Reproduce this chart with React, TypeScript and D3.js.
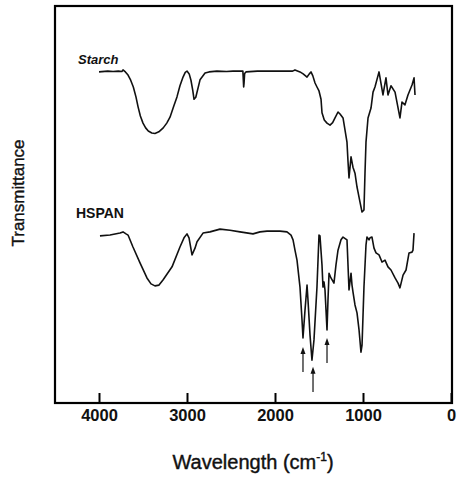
import React, { useEffect, useRef } from 'react';
import * as d3 from 'd3';

// wavenumber (cm-1), transmittance (arbitrary units)
const starchWn = [
  4000, 3900, 3840, 3780, 3740, 3727, 3700, 3670, 3640, 3610, 3580, 3556, 3530, 3500, 3470, 3440,
  3400, 3364, 3320, 3270, 3230, 3193, 3150, 3114, 3080, 3045, 3020, 3000, 2975, 2955, 2935, 2920,
  2900, 2852, 2795, 2750, 2660, 2550, 2477, 2400, 2365, 2356, 2352, 2345, 2330, 2200, 2095, 1900,
  1800, 1773, 1716, 1680, 1636, 1610, 1591, 1570, 1545, 1523, 1500, 1477, 1466, 1440, 1409, 1375,
  1345, 1318, 1284, 1261, 1227, 1182, 1170, 1159, 1136, 1114, 1091, 1080, 1068, 1057, 1034, 1011,
  989, 977, 966, 943, 909, 886, 864, 818, 773, 739, 716, 682, 636, 580, 557, 523, 489, 443, 420, 409,
];
const starchT = [
  83.4, 83.6, 83.5, 83.6, 83.5, 83.9, 83.4, 82.6, 81.3, 79.6, 77.1, 74.6, 72.3, 70.5, 69.3, 68.5,
  68.0, 67.9, 68.3, 69.3, 70.5, 72.0, 74.8, 77.1, 79.9, 82.1, 83.3, 83.6, 82.9, 81.3, 78.8, 76.5,
  77.0, 81.4, 83.1, 83.4, 83.6, 83.5, 83.6, 83.6, 83.6, 79.6, 80.5, 83.0, 83.4, 83.6, 83.6, 83.6,
  83.6, 83.9, 83.4, 82.9, 82.1, 82.9, 83.4, 82.4, 80.6, 79.6, 78.6, 76.5, 73.1, 71.3, 70.5, 70.0,
  70.6, 71.8, 73.3, 72.8, 71.8, 65.7, 60.7, 56.7, 62.0, 59.4, 57.9, 56.2, 54.4, 53.2, 50.6, 48.1,
  48.6, 58.2, 65.7, 71.8, 74.3, 78.3, 79.6, 83.4, 77.6, 81.9, 77.6, 79.9, 78.3, 71.8, 75.8, 75.1,
  77.6, 80.1, 81.9, 77.6,
];

const hspanWn = [
  3989, 3875, 3761, 3727, 3693, 3670, 3614, 3534, 3455, 3409, 3364, 3318, 3273, 3170, 3080, 3034,
  3000, 2977, 2943, 2909, 2886, 2818, 2739, 2625, 2511, 2398, 2250, 2170, 2091, 1943, 1864, 1818,
  1795, 1773, 1750, 1716, 1693, 1682, 1659, 1636, 1625, 1602, 1580, 1557, 1523, 1500, 1489, 1466,
  1455, 1443, 1432, 1409, 1398, 1386, 1364, 1330, 1307, 1284, 1250, 1227, 1182, 1159, 1136, 1125,
  1114, 1091, 1068, 1045, 1023, 1011, 989, 966, 955, 932, 920, 898, 875, 852, 818, 784, 750, 716,
  682, 636, 602, 580, 545, 511, 477, 443, 432, 420,
];
const hspanT = [
  42.1, 42.3, 42.8, 43.1, 42.6, 42.3, 39.3, 35.3, 31.5, 30.0, 29.5, 29.7, 31.0, 34.3, 39.3, 41.6,
  42.6, 41.6, 37.3, 39.0, 40.6, 42.8, 43.1, 43.8, 43.5, 43.1, 42.6, 43.1, 43.3, 43.3, 43.1, 42.3,
  41.1, 38.5, 36.0, 29.2, 20.9, 16.4, 23.4, 29.7, 25.9, 17.1, 10.8, 15.9, 29.2, 42.3, 42.1, 34.8,
  29.2, 30.5, 28.5, 18.4, 25.9, 32.7, 31.5, 30.2, 34.8, 38.5, 41.1, 41.8, 41.1, 28.5, 32.7, 29.7,
  28.0, 24.7, 22.7, 18.4, 12.8, 14.6, 29.2, 39.8, 41.8, 41.1, 41.6, 41.8, 39.0, 37.8, 37.3, 35.5,
  36.0, 34.3, 33.5, 31.5, 30.2, 29.0, 32.2, 33.5, 37.8, 38.0, 38.5, 42.8,
];

// arrows under the HSPAN bands: wavenumber, tail, tip
const arrowWn = [1682, 1568, 1409];
const arrowTail = [7.8, 2.8, 10.1];
const arrowTip = [14.1, 9.1, 16.4];

const xTicks = [4000, 3000, 2000, 1000, 0];

const font = 'Arial, "Liberation Sans", sans-serif';

const App = () => {
  const ref = useRef<SVGSVGElement>(null);

  useEffect(() => {
    if (ref.current) draw();
  }, []);

  const draw = () => {
    const left = 55,
      right = 452,
      top = 6,
      bottom = 403;

    const svg = d3.select(ref.current);
    svg.selectAll('*').remove();

    const x = d3.scaleLinear().domain([4500, 0]).range([left, 451]);
    const y = d3.scaleLinear().domain([0, 100]).range([bottom, top]);

    const spectrum = (wn: number[], t: number[]) =>
      d3
        .line<number>()
        .x((d) => x(d))
        .y((d, i) => y(t[i]))(wn);

    // spectra
    [
      [starchWn, starchT],
      [hspanWn, hspanT],
    ].forEach(([wn, t]) => {
      svg
        .append('path')
        .attr('d', spectrum(wn, t))
        .attr('fill', 'none')
        .attr('stroke', '#111')
        .attr('stroke-width', 1.6)
        .attr('stroke-linejoin', 'round');
    });

    // arrows
    arrowWn.forEach((wn, i) => {
      const ax = x(wn);
      const ty = y(arrowTip[i]);
      svg
        .append('line')
        .attr('x1', ax)
        .attr('x2', ax)
        .attr('y1', y(arrowTail[i]))
        .attr('y2', ty + 5)
        .attr('stroke', '#111')
        .attr('stroke-width', 1.2);
      svg
        .append('polygon')
        .attr('points', `${ax},${ty} ${ax - 2.5},${ty + 7} ${ax + 2.5},${ty + 7}`)
        .attr('fill', '#111');
    });

    // frame
    svg
      .append('rect')
      .attr('x', left)
      .attr('y', top)
      .attr('width', right - left)
      .attr('height', bottom - top)
      .attr('fill', 'none')
      .attr('stroke', '#000')
      .attr('stroke-width', 2.2);

    // bottom axis, ticks pointing inward
    const axis = svg
      .append('g')
      .attr('transform', `translate(0,${bottom})`)
      .call(
        d3
          .axisBottom(x)
          .tickValues(xTicks)
          .tickFormat(d3.format('d'))
          .tickSizeInner(-10)
          .tickSizeOuter(0)
          .tickPadding(6)
      );
    axis.select('.domain').remove();
    axis.selectAll('.tick line').attr('stroke', '#000').attr('stroke-width', 2);
    axis
      .selectAll('.tick text')
      .style('font-family', font)
      .style('font-size', '16.5px')
      .style('font-weight', 'bold')
      .style('fill', '#111');

    // series labels
    svg
      .append('text')
      .attr('x', 78)
      .attr('y', 64)
      .text('Starch')
      .style('font-family', font)
      .style('font-size', '13px')
      .style('font-style', 'italic')
      .style('font-weight', 'bold')
      .style('fill', '#111');

    svg
      .append('text')
      .attr('x', 76)
      .attr('y', 218)
      .text('HSPAN')
      .style('font-family', font)
      .style('font-size', '14px')
      .style('font-weight', 'bold')
      .style('fill', '#111');

    // axis titles
    svg
      .append('text')
      .attr('transform', 'translate(24,193) rotate(-90)')
      .attr('text-anchor', 'middle')
      .text('Transmittance')
      .style('font-family', font)
      .style('font-size', '17px')
      .style('fill', '#111')
      .style('stroke', '#111')
      .style('stroke-width', 0.4);

    const xt = svg
      .append('text')
      .attr('x', 253)
      .attr('y', 469)
      .attr('text-anchor', 'middle')
      .style('font-family', font)
      .style('font-size', '20px')
      .style('fill', '#111')
      .style('stroke', '#111')
      .style('stroke-width', 0.4);
    xt.append('tspan').text('Wavelength (cm');
    xt.append('tspan').attr('dy', -8).style('font-size', '12px').text('-1');
    xt.append('tspan').attr('dy', 8).text(')');
  };

  return (
    <svg
      ref={ref}
      width={458}
      height={480}
      style={{ position: 'absolute', left: 0, top: 0, background: '#fff' }}
    />
  );
};

export default App;
